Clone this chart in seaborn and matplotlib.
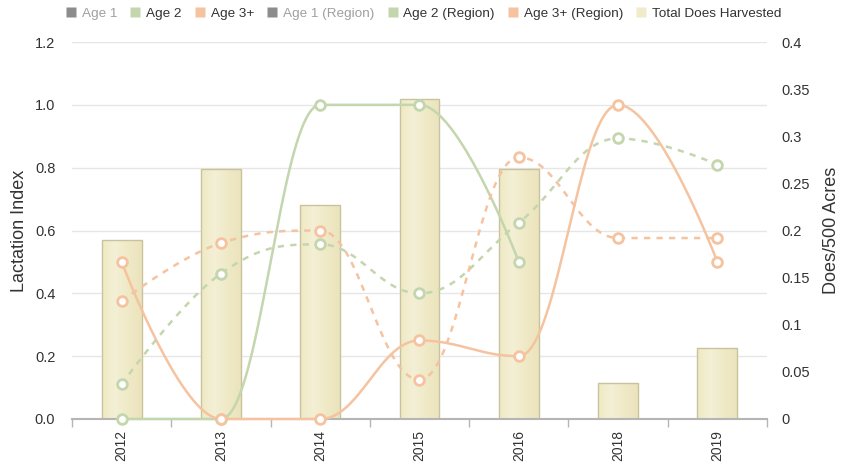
import numpy as np
import pandas as pd
import seaborn as sns
import matplotlib
matplotlib.use("Agg")
import matplotlib.pyplot as plt
from matplotlib.lines import Line2D

years = ["2012", "2013", "2014", "2015", "2016", "2018", "2019"]
does_harvested = [0.19, 0.265, 0.227, 0.34, 0.265, 0.038, 0.075]
age2 = [0.0, 0.0, 1.0, 1.0, 0.5]              # ends at 2016
age3 = [0.5, 0.0, 0.0, 0.25, 0.2, 1.0, 0.5]
age2_region = [0.111, 0.463, 0.556, 0.4, 0.625, 0.893, 0.81]
age3_region = [0.375, 0.56, 0.6, 0.125, 0.833, 0.576, 0.576]

left_ticks = [0, 0.2, 0.4, 0.6, 0.8, 1.0, 1.2]
right_ticks = [0, 0.05, 0.1, 0.15, 0.2, 0.25, 0.3, 0.35, 0.4]

GREEN = "#c3d6ad"
ORANGE = "#f5c3a0"
BAR = "#f0ebc8"
BAR_EDGE = "#c8c39d"
TXT = "#333333"


# highcharts style spline (smoothing 1.5, no false extremes)
def spline(xs, ys, n=40):
    sm = 1.5
    den = sm + 1
    m = len(xs)
    rc = [None] * m
    lc = [None] * m
    for i in range(1, m - 1):
        px, py = xs[i], ys[i]
        lx, ly = xs[i - 1], ys[i - 1]
        nx, ny = xs[i + 1], ys[i + 1]
        lcx = (sm * px + lx) / den
        lcy = (sm * py + ly) / den
        rcx = (sm * px + nx) / den
        rcy = (sm * py + ny) / den
        corr = 0
        if rcx != lcx:
            corr = (rcy - lcy) * (rcx - px) / (rcx - lcx) + py - rcy
        lcy += corr
        rcy += corr
        if lcy > ly and lcy > py:
            lcy = max(ly, py)
            rcy = 2 * py - lcy
        elif lcy < ly and lcy < py:
            lcy = min(ly, py)
            rcy = 2 * py - lcy
        if rcy > ny and rcy > py:
            rcy = max(ny, py)
            lcy = 2 * py - rcy
        elif rcy < ny and rcy < py:
            rcy = min(ny, py)
            lcy = 2 * py - rcy
        lc[i] = (lcx, lcy)
        rc[i] = (rcx, rcy)
    outx, outy = [xs[0]], [ys[0]]
    t = np.linspace(0, 1, n)[1:]
    for i in range(1, m):
        p0 = np.array([xs[i - 1], ys[i - 1]])
        p1 = np.array(rc[i - 1]) if rc[i - 1] is not None else p0
        p3 = np.array([xs[i], ys[i]])
        p2 = np.array(lc[i]) if lc[i] is not None else p3
        pts = (np.outer((1 - t) ** 3, p0) + np.outer(3 * (1 - t) ** 2 * t, p1)
               + np.outer(3 * (1 - t) * t ** 2, p2) + np.outer(t ** 3, p3))
        outx.extend(pts[:, 0])
        outy.extend(pts[:, 1])
    return np.array(outx), np.array(outy)


sns.set_style("white")
plt.rcParams["font.family"] = ["Liberation Sans", "DejaVu Sans"]

fig = plt.figure(figsize=(8.41, 4.70), dpi=100)
ax_bar = fig.add_axes([72 / 841, 51 / 470, 695 / 841, 377 / 470])
ax = ax_bar.twinx()

df = pd.DataFrame({"year": years, "does": does_harvested})
sns.barplot(data=df, x="year", y="does", order=years, ax=ax_bar, color=BAR,
            width=0.4, edgecolor=BAR_EDGE, linewidth=1, saturation=1)

# subtle horizontal gradient inside bars
grad = np.linspace(0, 1, 64).reshape(1, -1)
cmap = matplotlib.colors.LinearSegmentedColormap.from_list(
    "bar", ["#efe9c4", "#f4f0d6", "#efe9c6", "#ebe4bd"])
for p in ax_bar.patches:
    x0, y0 = p.get_x(), p.get_y()
    im = ax_bar.imshow(grad, cmap=cmap, aspect="auto", zorder=p.get_zorder(),
                       extent=[x0, x0 + p.get_width(), y0, y0 + p.get_height()])
    im.set_clip_path(p)
    p.set_facecolor("none")
    p.set_zorder(p.get_zorder() + 0.1)

ax_bar.set_xlim(-0.5, len(years) - 0.5)
ax_bar.set_ylim(0, 0.4)
ax_bar.set_yticks(right_ticks)
ax_bar.set_yticklabels(["%g" % v for v in right_ticks])
ax_bar.yaxis.tick_right()
ax_bar.yaxis.set_label_position("right")
ax_bar.set_ylabel("Does/500 Acres", fontsize=13, color=TXT, labelpad=10)
ax_bar.set_xlabel("")
for v in left_ticks[1:]:
    ax_bar.axhline(v * 0.4 / 1.2, color="#e6e6e6", lw=1, zorder=0)

ax.yaxis.tick_left()
ax.yaxis.set_label_position("left")
ax.set_ylim(0, 1.2)
ax.set_yticks(left_ticks)
ax.set_yticklabels(["%.1f" % v for v in left_ticks])
ax.set_ylabel("Lactation Index", fontsize=13, color=TXT, labelpad=5)

series = [
    (age2, GREEN, "-"),
    (age3, ORANGE, "-"),
    (age2_region, GREEN, (0, (2.5, 2.5))),
    (age3_region, ORANGE, (0, (2.5, 2.5))),
]
for vals, col, ls in series:
    xs = list(range(len(vals)))
    sx, sy = spline(xs, vals)
    ax.plot(sx, sy, color=col, lw=1.8, ls=ls, zorder=3, clip_on=False)
    ax.plot(xs, vals, ls="none", marker="o", ms=7, mfc="white", mec=col,
            mew=2, zorder=4, clip_on=False)

for a in (ax, ax_bar):
    for s in a.spines.values():
        s.set_visible(False)
    a.tick_params(axis="y", length=0, labelsize=10.5, labelcolor=TXT, pad=10)
ax.tick_params(axis="y", pad=12)

ax_bar.spines["bottom"].set_visible(True)
ax_bar.spines["bottom"].set_color("#b5b5b5")
ax_bar.spines["bottom"].set_linewidth(1.5)
ax_bar.set_xticks(range(len(years)))
ax_bar.set_xticklabels(years, rotation=90)
ax_bar.set_xticks(np.arange(-0.5, len(years)), minor=True)
ax_bar.tick_params(axis="x", which="major", length=0, labelsize=10,
                   labelcolor=TXT, pad=8)
ax_bar.tick_params(axis="x", which="minor", length=6, width=1, color="#b5b5b5",
                   bottom=True)

handles = [
    Line2D([], [], ls="none", marker="s", ms=7, mfc="#8c8c8c", mec="none"),
    Line2D([], [], ls="none", marker="s", ms=7, mfc=GREEN, mec="none"),
    Line2D([], [], ls="none", marker="s", ms=7, mfc=ORANGE, mec="none"),
    Line2D([], [], ls="none", marker="s", ms=7, mfc="#8c8c8c", mec="none"),
    Line2D([], [], ls="none", marker="s", ms=7, mfc=GREEN, mec="none"),
    Line2D([], [], ls="none", marker="s", ms=7, mfc=ORANGE, mec="none"),
    Line2D([], [], ls="none", marker="s", ms=7, mfc=BAR, mec="none"),
]
labels = ["Age 1", "Age 2", "Age 3+", "Age 1 (Region)", "Age 2 (Region)",
          "Age 3+ (Region)", "Total Does Harvested"]
leg = fig.legend(handles, labels, loc="center", bbox_to_anchor=(423 / 841, 1 - 14 / 470),
                 ncol=7, frameon=False, fontsize=9.7, handletextpad=0.3,
                 columnspacing=0.85, handlelength=1.0)
for t, lab in zip(leg.get_texts(), labels):
    t.set_color("#a0a0a0" if lab.startswith("Age 1") else TXT)

fig.savefig("out.png", dpi=100)
